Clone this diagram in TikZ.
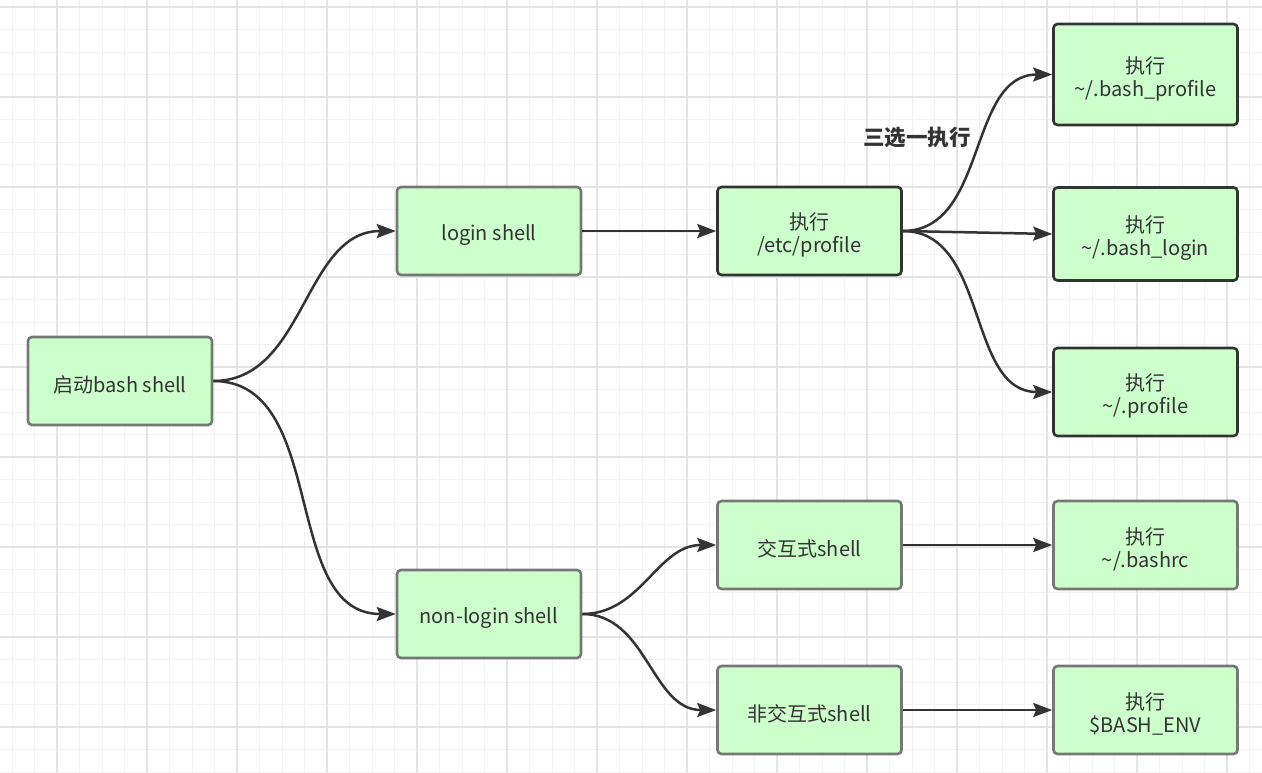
\documentclass[tikz,border=0pt]{standalone}
\usepackage{fontspec}
\setmainfont{Noto Sans CJK SC}
\usetikzlibrary{arrows.meta}
\definecolor{boxfill}{HTML}{CCFFCC}
\definecolor{graybd}{HTML}{777777}
\definecolor{darkbd}{HTML}{333333}
\definecolor{txt}{HTML}{333333}
\definecolor{gminor}{HTML}{F2F2F2}
\definecolor{gmajor}{HTML}{E4E4E4}
\tikzset{
  box/.style={draw=graybd, line width=2.6pt, fill=boxfill, rounded corners=4pt,
    minimum width=184pt, minimum height=88pt, align=center, text=txt,
    font=\fontsize{20}{23}\selectfont, inner sep=0pt},
  onel/.style={execute at begin node={\rule{0pt}{24pt}}},
  txtlbl/.style={align=center, text=txt, font=\fontsize{20}{23}\selectfont,
    inner sep=0pt, yshift=-4pt},
  twol/.style={label={[txtlbl]center:#1}},
  dbox/.style={box, draw=darkbd},
  conn/.style={draw=darkbd, line width=2.5pt, -{Stealth[length=19pt,width=14pt,inset=3pt]}},
  gmin/.style={gminor, line width=1pt},
  gmaj/.style={gmajor, line width=1.3pt}
}
\begin{document}
\begin{tikzpicture}[x=1pt,y=-1pt]
\useasboundingbox (0,0) rectangle (1262,772);
\fill[white] (0,0) rectangle (1262,772);
% grid
\foreach \i in {0,...,55} {
  \draw[gmin] ({12+22.5*\i},0) -- ({12+22.5*\i},772);
}
\foreach \i in {0,...,34} {
  \draw[gmin] (0,{7+22.5*\i}) -- (1262,{7+22.5*\i});
}
\foreach \i in {0,...,13} {
  \draw[gmaj] ({57+90*\i},0) -- ({57+90*\i},772);
}
\foreach \i in {0,...,8} {
  \draw[gmaj] (0,{7+90*\i}) -- (1262,{7+90*\i});
}
% nodes
\node[box, onel] (start) at (120,381) {启动bash shell};
\node[box, onel] (login) at (489,231) {login shell};
\node[box, onel] (nonlogin) at (489,614) {non-login shell};
\node[dbox, twol={执行\\/etc/profile}] (etc) at (809.5,231) {};
\node[dbox, minimum height=101pt, twol={执行\\\textasciitilde/.bash\_profile}] (bprof) at (1145.5,74.5) {};
\node[dbox, minimum height=93pt, twol={执行\\\textasciitilde/.bash\_login}] (blogin) at (1145.5,234) {};
\node[dbox, twol={执行\\\textasciitilde/.profile}] (prof) at (1145.5,392) {};
\node[box, onel] (inter) at (809.5,545) {交互式shell};
\node[box, onel] (noninter) at (809.5,710) {非交互式shell};
\node[box, twol={执行\\\textasciitilde/.bashrc}] (bashrc) at (1145.5,545) {};
\node[box, twol={执行\\\$BASH\_ENV}] (benv) at (1145.5,710) {};
\node[text=txt, font=\fontsize{21.5}{24}\selectfont\bfseries] (lbl) at (917,137) {三选一执行};
% connectors
\draw[conn] (start.east) to[out=0,in=180] (login.west);
\draw[conn] (start.east) to[out=0,in=180] (nonlogin.west);
\draw[conn] (login.east) -- (etc.west);
\draw[conn] (etc.east) to[out=0,in=180] (bprof.west);
\draw[conn] (etc.east) -- (blogin.west);
\draw[conn] (etc.east) to[out=0,in=180] (prof.west);
\draw[conn] (nonlogin.east) to[out=0,in=180] (inter.west);
\draw[conn] (nonlogin.east) to[out=0,in=180] (noninter.west);
\draw[conn] (inter.east) -- (bashrc.west);
\draw[conn] (noninter.east) -- (benv.west);
\end{tikzpicture}
\end{document}
